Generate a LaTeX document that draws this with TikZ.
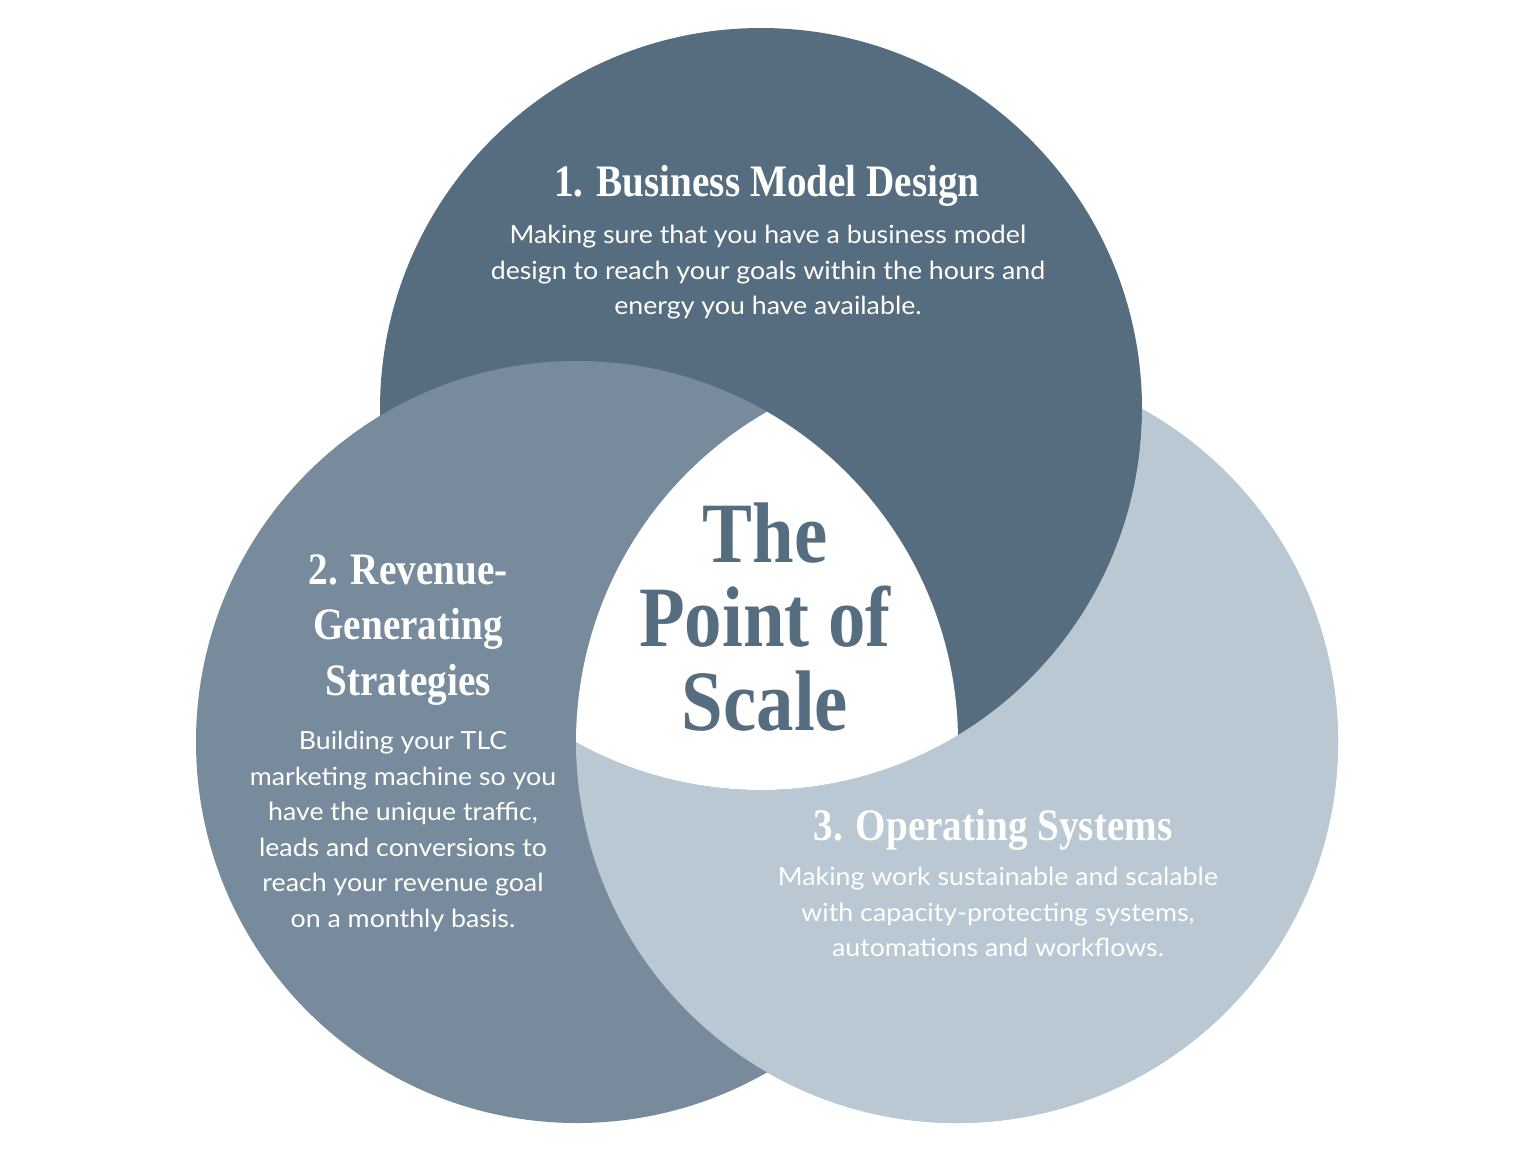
\documentclass[tikz,border=0pt]{standalone}
\usepackage{fontspec}
\setmainfont{Lato}[FakeStretch=1.07]
\newfontfamily\headfont[FakeStretch=0.87]{Liberation Serif}
\usepackage{tikz}
\usetikzlibrary{calc}
\definecolor{SlateDark}{RGB}{86,109,128}
\definecolor{SlateMid}{RGB}{119,139,157}
\definecolor{SlateLight}{RGB}{185,200,211}

\begin{document}
\begin{tikzpicture}[x=1pt, y=-1pt, every node/.style={inner sep=0pt, align=center}, head/.style={text=white, font=\headfont\bfseries\fontsize{45}{55.5}\selectfont}, body/.style={text=white, font=\fontsize{25}{35.5}\selectfont}, coretext/.style={text=SlateDark, font=\headfont\bfseries\fontsize{86}{84}\selectfont}]
\useasboundingbox (0,0) rectangle (1536,1152);
\fill[white] (0,0) rectangle (1536,1152);
\coordinate (cdesign) at (761,409);
\coordinate (crevenue) at (577,742);
\coordinate (csystems) at (957,742);
% corners where the circles cross
\coordinate (xrs) at ($(crevenue)+(-60.087:381)$);
\coordinate (xds) at ($(csystems)+(-60.951:381)$);

\fill[SlateLight] (csystems) circle (381);
\fill[SlateDark] (cdesign) circle (381);
\fill[SlateMid] (crevenue) circle (381);
% systems lune, then the white core
\fill[SlateLight] (xds) arc[start angle=-60.951, end angle=179.989, radius=381] arc[start angle=119.049, end angle=-0.011, radius=381] -- cycle;
\fill[white] (xrs) arc[start angle=-60.087, end angle=-1.030, radius=381] arc[start angle=58.876, end angle=119.049, radius=381] arc[start angle=179.989, end angle=240.087, radius=381] -- cycle;

\node[head] (designhead) at (767,186) {1. Business Model Design};
\node[body] (designbody) at (768,272.5) {Making sure that you have a business model\\design to reach your goals within the hours and\\energy you have available.};
\node[head] (revenuehead) at (408,630) {2. Revenue-\\Generating\\Strategies};
\node[body] (revenuebody) at (403,831.5) {Building your TLC\\marketing machine so you\\have the unique traffic,\\leads and conversions to\\reach your revenue goal\\on a monthly basis.};
\node[head] (systemshead) at (993,830) {3. Operating Systems};
\node[body] (systemsbody) at (998,912) {Making work sustainable and scalable\\with capacity-protecting systems,\\automations and workflows.};
\node[coretext] (scale) at (765,617) {The\\Point of\\Scale};
\end{tikzpicture}
\end{document}
